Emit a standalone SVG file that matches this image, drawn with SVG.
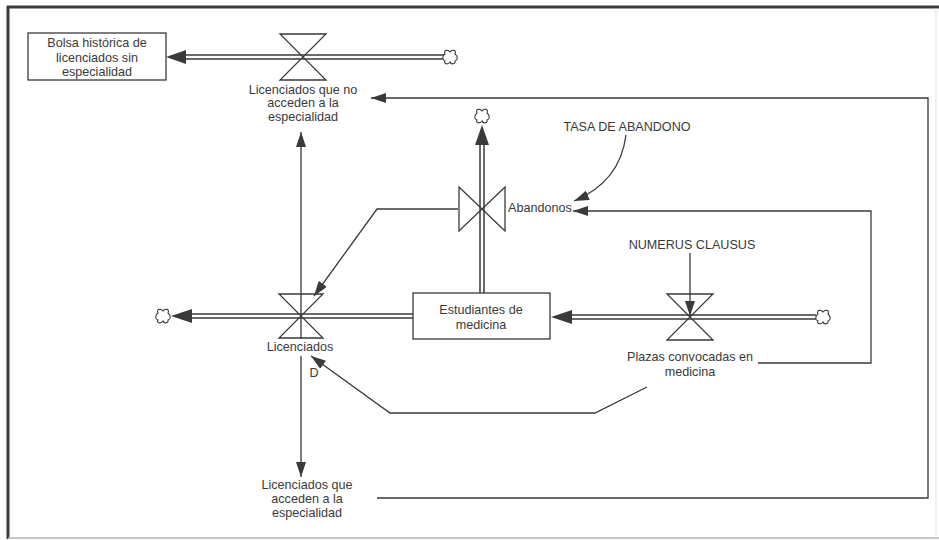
<svg xmlns="http://www.w3.org/2000/svg" xmlns:xlink="http://www.w3.org/1999/xlink" width="939" height="540" viewBox="0 0 939 540">
  <style>
    text { font-family: "Liberation Sans", Arial, sans-serif; font-size: 12.6px; fill: #3a3a3a; }
    .c { text-anchor: middle; }
    .stock { fill: #ffffff; stroke: #3a3a3a; stroke-width: 1.3; }
    .valve { fill: none; stroke: #3a3a3a; stroke-width: 1.3; stroke-linejoin: miter; }
    .pipe-o { fill: none; stroke: #3a3a3a; stroke-width: 5.5; }
    .pipe-i { fill: none; stroke: #ffffff; stroke-width: 2.5; }
    .pipe-head { fill: #3a3a3a; }
    .info { fill: none; stroke: #3a3a3a; stroke-width: 1.3; }
    .cloud { fill: #ffffff; stroke: #3a3a3a; stroke-width: 1.1; }
  </style>
  <defs>
    <marker id="infoHead" markerUnits="userSpaceOnUse" markerWidth="15" markerHeight="10" refX="15" refY="5" orient="auto">
      <path d="M0,0 L15,5 L0,10 Z" fill="#3a3a3a"/>
    </marker>
    <path id="cloudShape" class="cloud" d="M-5,-3 C-7,-7 -2,-8 0,-5 C2,-8 7,-7 5,-3 C8,-1 8,3 5,4 C6,7 1,8 0,5 C-2,8 -7,7 -5,4 C-8,3 -8,-1 -5,-3 Z"/>
  </defs>

  <!-- page frame -->
  <g id="frame">
    <rect x="0" y="0" width="939" height="540" fill="#ffffff"/>
    <line x1="7" y1="7" x2="939" y2="7" stroke="#3a3a3a" stroke-width="3"/>
    <line x1="8" y1="6" x2="8" y2="539" stroke="#3a3a3a" stroke-width="3"/>
    <line x1="8" y1="538" x2="939" y2="538" stroke="#b5b5b5" stroke-width="1.5"/>
    <line x1="936" y1="8" x2="936" y2="538" stroke="#dddddd" stroke-width="1"/>
  </g>

  <!-- connectors: material pipes and information links -->
  <g id="connectors">
    <!-- pipe: source cloud -> Bolsa histórica -->
    <path class="pipe-o" d="M444,57 H185"/>
    <path class="pipe-i" d="M444,57 H186"/>
    <polygon class="pipe-head" points="166,57 186,50 186,64"/>
    <!-- pipe: Estudiantes -> sink cloud (left) -->
    <path class="pipe-o" d="M413,316 H191"/>
    <path class="pipe-i" d="M413,316 H192"/>
    <polygon class="pipe-head" points="171,316 192,309 192,323"/>
    <!-- pipe: Estudiantes -> sink cloud (top) -->
    <path class="pipe-o" d="M482,293 V144"/>
    <path class="pipe-i" d="M482,293 V145"/>
    <polygon class="pipe-head" points="482,125 475,145 489,145"/>
    <!-- pipe: source cloud (right) -> Estudiantes -->
    <path class="pipe-o" d="M816,317 H571"/>
    <path class="pipe-i" d="M816,317 H572"/>
    <polygon class="pipe-head" points="551,317 572,310 572,324"/>

    <!-- Licenciados -> Licenciados que no acceden -->
    <path class="info" d="M301,339 V132" marker-end="url(#infoHead)"/>
    <!-- Licenciados -> Licenciados que acceden -->
    <path class="info" d="M301,356 V477" marker-end="url(#infoHead)"/>
    <!-- Licenciados que acceden -> Licenciados que no acceden (outer loop) -->
    <path class="info" d="M377,498 H928 V98 H371" marker-end="url(#infoHead)"/>
    <!-- Plazas convocadas -> Abandonos -->
    <path class="info" d="M758,363 H871 V211 H573" marker-end="url(#infoHead)"/>
    <!-- TASA DE ABANDONO -> Abandonos -->
    <path class="info" d="M626,135 Q620,182 574,201" marker-end="url(#infoHead)"/>
    <!-- NUMERUS CLAUSUS -> Plazas convocadas -->
    <path class="info" d="M690,253 V316" marker-end="url(#infoHead)"/>
    <!-- Abandonos -> Licenciados -->
    <path class="info" d="M458,209 H377 L314,296" marker-end="url(#infoHead)"/>
    <!-- Plazas convocadas -> Licenciados (delayed) -->
    <path class="info" d="M647,387 L595,413 H390 L311,356" marker-end="url(#infoHead)"/>
  </g>

  <!-- clouds -->
  <g id="cloud-top-source"><use xlink:href="#cloudShape" x="450" y="57"/></g>
  <g id="cloud-left-sink"><use xlink:href="#cloudShape" x="163" y="316"/></g>
  <g id="cloud-top-sink"><use xlink:href="#cloudShape" x="482" y="116"/></g>
  <g id="cloud-right-source"><use xlink:href="#cloudShape" x="823" y="317"/></g>

  <!-- stocks -->
  <g id="bolsa-historica">
    <rect class="stock" x="28" y="33" width="138" height="47"/>
    <text class="c" x="97" y="47">Bolsa histórica de</text>
    <text class="c" x="97" y="62">licenciados sin</text>
    <text class="c" x="97" y="76">especialidad</text>
  </g>
  <g id="estudiantes-medicina">
    <rect class="stock" x="413" y="293" width="137" height="46"/>
    <text class="c" x="481" y="314">Estudiantes de</text>
    <text class="c" x="481" y="329">medicina</text>
  </g>

  <!-- flows (valves) -->
  <g id="licenciados-no-acceden">
    <path class="valve" d="M280,34 H326 L280,80 H326 Z"/>
    <text class="c" x="303" y="94">Licenciados que no</text>
    <text class="c" x="303" y="107">acceden a la</text>
    <text class="c" x="303" y="121">especialidad</text>
  </g>
  <g id="licenciados">
    <path class="valve" d="M279,294 H323 L279,338 H323 Z"/>
    <text class="c" x="300" y="351">Licenciados</text>
    <text class="c" x="314" y="377">D</text>
  </g>
  <g id="abandonos">
    <path class="valve" d="M459,187 V231 L505,187 V231 Z"/>
    <text x="508" y="212">Abandonos</text>
  </g>
  <g id="plazas-convocadas">
    <path class="valve" d="M667,294 H713 L667,340 H713 Z"/>
    <text class="c" x="690" y="361">Plazas convocadas en</text>
    <text class="c" x="690" y="376">medicina</text>
  </g>

  <!-- auxiliaries and constants -->
  <g id="licenciados-acceden">
    <text class="c" x="307" y="489">Licenciados que</text>
    <text class="c" x="307" y="503">acceden a la</text>
    <text class="c" x="307" y="517">especialidad</text>
  </g>
  <g id="tasa-abandono">
    <text class="c" x="627" y="131">TASA DE ABANDONO</text>
  </g>
  <g id="numerus-clausus">
    <text class="c" x="692" y="249">NUMERUS CLAUSUS</text>
  </g>
</svg>
